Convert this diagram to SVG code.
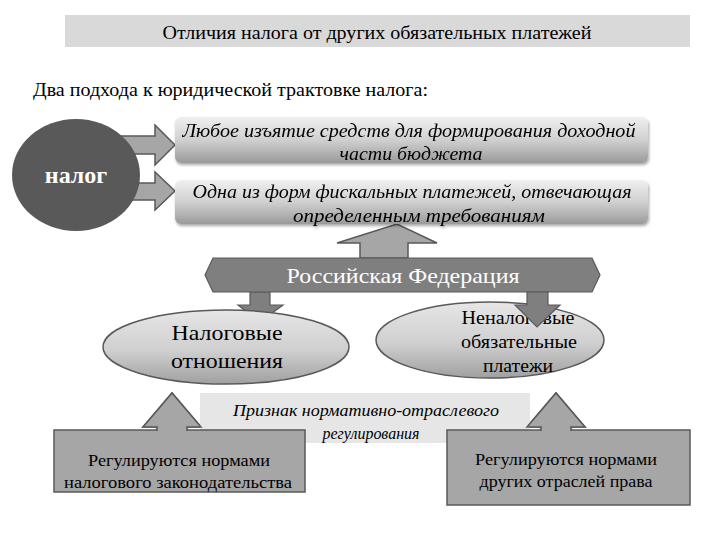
<svg xmlns="http://www.w3.org/2000/svg" width="720" height="540" viewBox="0 0 720 540">
<defs>
<linearGradient id="gBox" x1="0" y1="0" x2="0" y2="1">
<stop offset="0" stop-color="#f0f0f0"/><stop offset="0.5" stop-color="#d0d0d0"/><stop offset="1" stop-color="#9a9a9a"/>
</linearGradient>
<linearGradient id="gEll" x1="0" y1="0" x2="0" y2="1">
<stop offset="0" stop-color="#e6e6e6"/><stop offset="0.55" stop-color="#cfcfcf"/><stop offset="1" stop-color="#a0a0a0"/>
</linearGradient>
<filter id="sh" x="-10%" y="-20%" width="120%" height="150%">
<feGaussianBlur in="SourceAlpha" stdDeviation="1.5"/><feOffset dx="1" dy="2" result="b"/>
<feComponentTransfer><feFuncA type="linear" slope="0.35"/></feComponentTransfer>
<feMerge><feMergeNode/><feMergeNode in="SourceGraphic"/></feMerge>
</filter>
</defs>
<style>
.it{font-style:italic}
.c{text-anchor:middle}
.w{fill:#fff}
.arr{fill:#a6a6a6;stroke:#595959;stroke-width:1.5;stroke-linejoin:miter}
.darr{fill:#7f7f7f;stroke:#5a5a5a;stroke-width:1.2}
.gbox{fill:#a6a6a6;stroke:#595959;stroke-width:1.5}
</style>
<rect width="720" height="540" fill="#fff"/>
<g font-family="Liberation Serif, DejaVu Serif, serif" fill="#000">

<g id="title">
<rect x="65" y="15" width="625" height="32" fill="#d9d9d9"/>
<text class="c" x="377" y="39" font-size="18" textLength="429" lengthAdjust="spacingAndGlyphs">Отличия налога от других обязательных платежей</text>
</g>
<g id="subtitle">
<text x="33" y="96" font-size="18" textLength="395" lengthAdjust="spacingAndGlyphs">Два подхода к юридической трактовке налога:</text>
</g>

<g id="connectors">
<path class="arr" d="M120,136 H155 V125 L175,145 L155,165 V154 H120 Z"/>
<path class="arr" d="M120,183 H155 V172 L175,191 L155,210 V200 H120 Z"/>
<path class="arr" d="M360,258 V243 H337 L397,224 L437,243 H408 V258 Z"/>
<path class="darr" d="M250,292 V305 H238 L260,322 L283,305 H270 V292 Z"/>
<path class="arr" d="M157,440 V427 H143 L172,393 L201,427 H187 V440 Z"/>
<path class="arr" d="M541,440 V427 H527 L556,393 L585,427 H571 V440 Z"/>
</g>

<g id="nalog">
<ellipse cx="76" cy="175" rx="64" ry="56" fill="#595959"/>
<text class="c w" x="76" y="183" font-size="24" font-weight="bold">налог</text>
</g>

<g id="approach1" filter="url(#sh)">
<rect x="175" y="117" width="473" height="46" rx="6" fill="url(#gBox)"/>
<text class="it c" x="409" y="137" font-size="18" textLength="453" lengthAdjust="spacingAndGlyphs">Любое изъятие средств для формирования доходной</text>
<text class="it c" x="411" y="160" font-size="18" textLength="143" lengthAdjust="spacingAndGlyphs">части бюджета</text>
</g>

<g id="approach2" filter="url(#sh)">
<rect x="175" y="180" width="473" height="44" rx="6" fill="url(#gBox)"/>
<text class="it c" x="412" y="198" font-size="18" textLength="439" lengthAdjust="spacingAndGlyphs">Одна из форм фискальных платежей, отвечающая</text>
<text class="it c" x="419" y="222" font-size="18" textLength="252" lengthAdjust="spacingAndGlyphs">определенным требованиям</text>
</g>

<g id="rf">
<path d="M205,275 L213,258 H592 L600,275 L592,292 H213 Z" fill="#7f7f7f" stroke="#5a5a5a" stroke-width="1.2"/>
<text class="c w" x="403" y="283" font-size="22" textLength="233" lengthAdjust="spacingAndGlyphs">Российская Федерация</text>
</g>

<g id="tax-relations">
<ellipse cx="226" cy="347" rx="123" ry="37" fill="url(#gEll)" stroke="#595959" stroke-width="1.5"/>
<text class="c" x="227" y="340" font-size="21" textLength="111" lengthAdjust="spacingAndGlyphs">Налоговые</text>
<text class="c" x="227" y="368" font-size="21" textLength="112" lengthAdjust="spacingAndGlyphs">отношения</text>
</g>

<g id="non-tax">
<ellipse cx="490" cy="340" rx="114" ry="38" fill="url(#gEll)" stroke="#595959" stroke-width="1.5"/>
<text class="c" x="518" y="324" font-size="18" textLength="113" lengthAdjust="spacingAndGlyphs">Неналоговые</text>
<text class="c" x="519" y="348" font-size="18" textLength="116" lengthAdjust="spacingAndGlyphs">обязательные</text>
<text class="c" x="518" y="372" font-size="18" textLength="70" lengthAdjust="spacingAndGlyphs">платежи</text>
</g>

<g id="connector-right-down">
<path class="darr" d="M527,292 V305 H515 L537,327 L560,305 H548 V292 Z"/>
</g>

<g id="criterion">
<rect x="200" y="393" width="330" height="50" fill="#e6e6e6"/>
<text class="it c" x="366" y="416" font-size="16" textLength="266" lengthAdjust="spacingAndGlyphs">Признак нормативно-отраслевого</text>
<text class="it c" x="371" y="439" font-size="16" textLength="97" lengthAdjust="spacingAndGlyphs">регулирования</text>
</g>

<g id="tax-law">
<rect class="gbox" x="54" y="430" width="251" height="62"/>
<text class="c" x="179" y="466" font-size="16" textLength="182" lengthAdjust="spacingAndGlyphs">Регулируются нормами</text>
<text class="c" x="178" y="488" font-size="16" textLength="228" lengthAdjust="spacingAndGlyphs">налогового законодательства</text>
</g>

<g id="other-law">
<rect class="gbox" x="447" y="430" width="243" height="75"/>
<text class="c" x="566" y="465" font-size="16" textLength="182" lengthAdjust="spacingAndGlyphs">Регулируются нормами</text>
<text class="c" x="566" y="487" font-size="16" textLength="173" lengthAdjust="spacingAndGlyphs">других отраслей права</text>
</g>

<g id="connectors-up">
<path class="arr" d="M157,431 V427 H143 L172,393 L201,427 H187 V431"/>
<path class="arr" d="M541,431 V427 H527 L556,393 L585,427 H571 V431"/>
</g>
</g>
</svg>
